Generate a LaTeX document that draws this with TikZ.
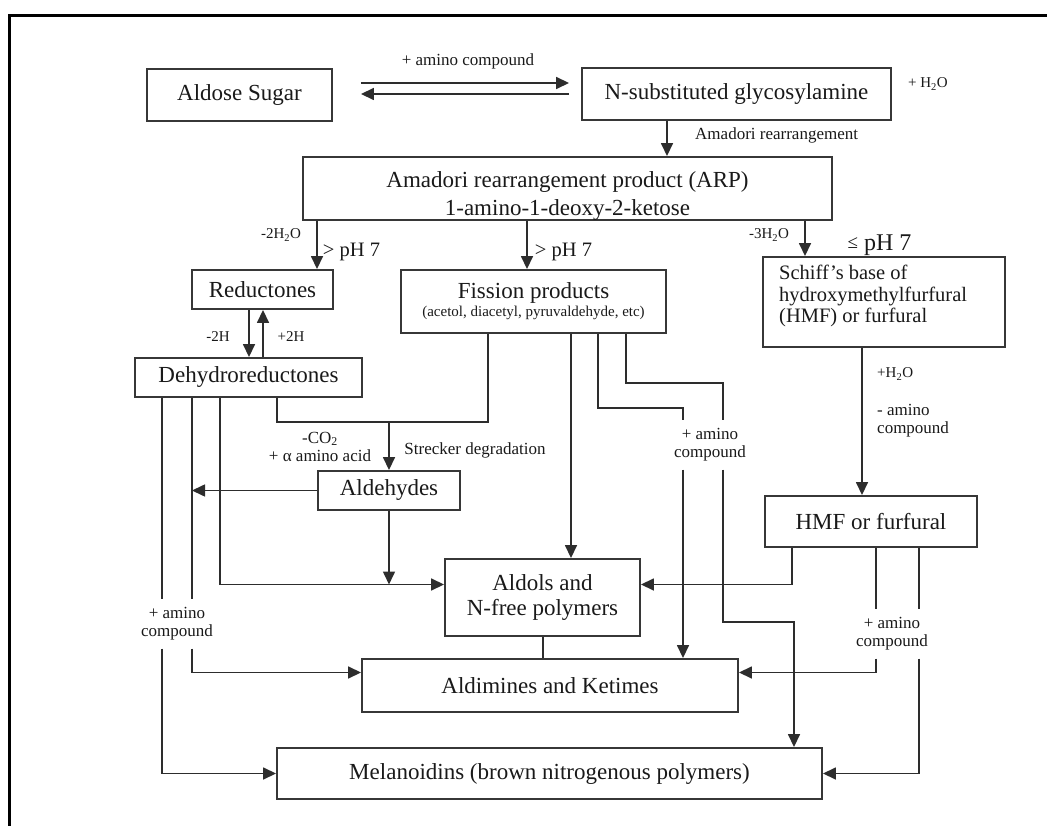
\documentclass[tikz,border=0pt]{standalone}
\usepackage{fontspec}
\setmainfont{Liberation Serif}
\usetikzlibrary{arrows.meta}

\definecolor{linegray}{RGB}{45,45,45}
\definecolor{boxgray}{RGB}{55,55,55}
\definecolor{inkgray}{RGB}{25,25,25}

\newcommand{\boxfont}{\fontsize{23}{28}\selectfont}
\newcommand{\lblfont}{\fontsize{17}{18}\selectfont}
\newcommand{\tinyfont}{\fontsize{15}{16}\selectfont}

\begin{document}
\begin{tikzpicture}[x=1pt, y=-1pt,
        box/.style={draw=boxgray, line width=1.9pt, text=inkgray, font=\boxfont, inner sep=0pt},
        lbl/.style={text=inkgray, font=\lblfont, inner sep=0pt, align=center},
        gap/.style={lbl, inner ysep=8pt},
        link/.style={draw=linegray, line width=1.6pt},
        flow/.style={link, -{Triangle[length=13pt,width=12pt]}}]
        \useasboundingbox (0,0) rectangle (1047,826);
        \draw[black, line width=3pt] (9,826) -- (9,16) -- (1047,16);

        \node[box, minimum width=185, minimum height=52] (aldose) at (239.5,95) {Aldose Sugar};
        \node[box, minimum width=309, minimum height=52] (glyco) at (736.5,94) {N-substituted glycosylamine};
        \node[box, minimum width=529, minimum height=63] (arp) at (567.5,188.5) {};
        \node[lbl, font=\boxfont] (arptext) at (567.5,196) {Amadori rearrangement product (ARP)\\1-amino-1-deoxy-2-ketose};
        \node[box, minimum width=141, minimum height=39] (red) at (262.5,289.5) {Reductones};
        \node[box, minimum width=265, minimum height=63] (fis) at (533.5,301.5) {};
        \node[lbl, font=\boxfont] (fistext) at (533.5,293) {Fission products};
        \node[lbl, font=\tinyfont] (fissub) at (533.5,313) {(acetol, diacetyl, pyruvaldehyde, etc)};
        \node[box, minimum width=242, minimum height=90] (schiff) at (884,302) {};
        \node[lbl, anchor=west, align=left, font=\fontsize{20.5}{21.5}\selectfont] (schifftext) at (779,296) {Schiff’s base of\\hydroxymethylfurfural\\(HMF) or furfural};
        \node[box, minimum width=227, minimum height=39] (dehyd) at (248.5,377.5) {Dehydroreductones};
        \node[box, minimum width=142, minimum height=39] (ald) at (389,490.5) {Aldehydes};
        \node[box, minimum width=212, minimum height=51] (hmf) at (871,521.5) {HMF or furfural};
        \node[box, minimum width=195, minimum height=77, align=center] (aldol) at (542.5,597.5) {Aldols and\\[-3pt]N-free polymers};
        \node[box, minimum width=376, minimum height=53] (aldim) at (550,685.5) {Aldimines and Ketimes};
        \node[box, minimum width=545, minimum height=51] (mel) at (549.5,773.5) {Melanoidins (brown nitrogenous polymers)};

        \node[lbl] (amino1) at (468,61) {+ amino compound};
        \node[lbl, font=\tinyfont] (water1) at (928,84) {+ H\textsubscript{2}O};
        \node[lbl, anchor=west] (amadori) at (695,135) {Amadori rearrangement};
        \node[lbl, font=\tinyfont] (minus2w) at (281,235) {-2H\textsubscript{2}O};
        \node[lbl, font=\fontsize{20.5}{22}\selectfont] (ph1) at (351.5,252) {> pH 7};
        \node[lbl, font=\fontsize{20.5}{22}\selectfont] (ph2) at (563.5,252) {> pH 7};
        \node[lbl, font=\tinyfont] (minus3w) at (769,235) {-3H\textsubscript{2}O};
        \node[lbl, font=\fontsize{24}{26}\selectfont] (ph3) at (879.5,245) {{\fontsize{19}{20}\selectfont\raisebox{2pt}{≤}} pH 7};
        \node[lbl, font=\tinyfont] (minus2h) at (218,337) {-2H};
        \node[lbl, font=\tinyfont] (plus2h) at (291,337) {+2H};
        \node[lbl] (co2) at (320,446.5) {-CO\textsubscript{2}\\+ α amino acid};
        \node[lbl] (strecker) at (475,450) {Strecker degradation};
        \node[lbl, anchor=west, font=\tinyfont] (water2) at (877,374) {+H\textsubscript{2}O};
        \node[lbl, anchor=west, align=left] (amino5) at (877,421) {- amino\\compound};
        \node[gap] (amino2) at (177,624) {+ amino\\compound};
        \node[gap] (amino3) at (710,445) {+ amino\\compound};
        \node[gap] (amino4) at (892,634) {+ amino\\compound};

        \coordinate (strk) at (389,422);
        \coordinate (aldjoin) at (389,584.5);

        \draw[flow] ([xshift=28pt,yshift=12pt]aldose.east) -- ([xshift=-12pt,yshift=11pt]glyco.west);
        \draw[flow] ([xshift=-12pt]glyco.west) -- ([xshift=28pt,yshift=1pt]aldose.east);
        \draw[flow] (667,0 |- glyco.south) -- (667,0 |- arp.north);
        \draw[flow] (317,0 |- arp.south) -- (317,0 |- red.north);
        \draw[flow] (527,0 |- arp.south) -- (527,0 |- fis.north);
        \draw[flow] (805,0 |- arp.south) -- (805,0 |- schiff.north);
        \draw[flow] (249,0 |- red.south) -- (249,0 |- dehyd.north);
        \draw[flow] (263,0 |- dehyd.north) -- (263,0 |- red.south);

        \draw[link] (277,0 |- dehyd.south) |- (strk) -| (488,0 |- fis.south);
        \draw[flow] (strk) -- (ald.north);
        \draw[flow] (ald.west) -- (192,0 |- ald.west);
        \draw[flow] (ald.south) -- (aldjoin);
        \draw[flow] (220,0 |- dehyd.south) |- ([yshift=13pt]aldol.west);
        \draw[link] (192,0 |- dehyd.south) -- (192,0 |- amino2.north);
        \draw[flow] (192,0 |- amino2.south) |- ([yshift=13pt]aldim.west);
        \draw[link] (162,0 |- dehyd.south) -- (162,0 |- amino2.north);
        \draw[flow] (162,0 |- amino2.south) |- (mel.west);

        \draw[flow] (571,0 |- fis.south) -- (571,0 |- aldol.north);
        \draw[link] (598,0 |- fis.south) |- (683,408) -- (683,0 |- amino3.north);
        \draw[flow] (683,0 |- amino3.south) -- (683,0 |- aldim.north);
        \draw[link] (626,0 |- fis.south) |- (723,383) -- (723,0 |- amino3.north);
        \draw[flow] (723,0 |- amino3.south) |- (794,622) -- (794,0 |- mel.north);
        \draw[link] (543,0 |- aldol.south) -- (543,0 |- aldim.north);

        \draw[flow] (862,0 |- schiff.south) -- (862,0 |- hmf.north);
        \draw[flow] (792,0 |- hmf.south) |- ([yshift=13pt]aldol.east);
        \draw[link] (876,0 |- hmf.south) -- (876,0 |- amino4.north);
        \draw[flow] (876,0 |- amino4.south) |- ([yshift=13pt]aldim.east);
        \draw[link] (919,0 |- hmf.south) -- (919,0 |- amino4.north);
        \draw[flow] (919,0 |- amino4.south) |- (mel.east);
\end{tikzpicture}
\end{document}
